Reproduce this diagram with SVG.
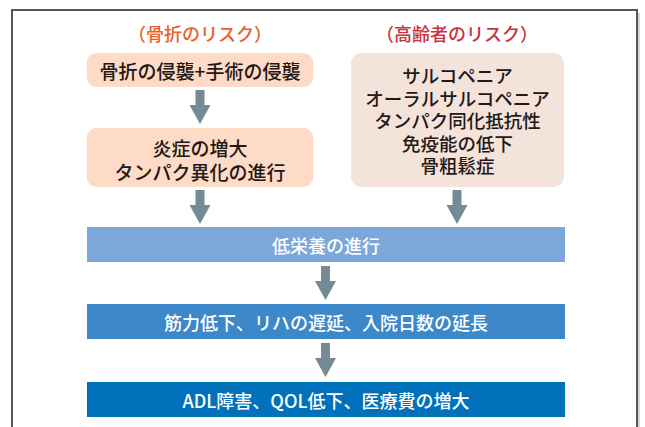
<svg xmlns="http://www.w3.org/2000/svg" width="645" height="427" viewBox="0 0 645 427">
<style>
text{font-family:"Noto Sans CJK JP","Noto Sans",sans-serif;text-anchor:middle;dominant-baseline:central}
.t{font-size:19px;fill:#231815;font-weight:500}
.r{font-size:18.5px;fill:#231815;font-weight:500}
.w{font-size:18px;fill:#ffffff;font-weight:500}
.h{font-size:18px;font-weight:500}
.arr{fill:#748A94}
</style>
<defs>
<path id="ar" d="M-4.5,0 H4.5 V15 H10.5 L0,34 L-10.5,15 H-4.5 Z"/>
</defs>
<rect x="0" y="0" width="645" height="427" fill="#ffffff"/>
<rect x="15" y="13" width="625" height="430" fill="#bbbbbb" opacity="0.6"/>
<rect x="12" y="10" width="625" height="430" fill="#ffffff" stroke="#555555" stroke-width="2"/>
<text class="h" x="200" y="33" fill="#E8602C">（骨折のリスク）</text>
<text class="h" x="457" y="33" fill="#C8323C">（高齢者のリスク）</text>
<g id="n1"><rect x="87" y="53" width="226" height="34" rx="9" fill="#FDDBC6"/><text class="t" x="200" y="70">骨折の侵襲+手術の侵襲</text></g>
<g id="n2"><rect x="87" y="128" width="226" height="59" rx="9" fill="#FDDBC6"/><text class="t"><tspan x="200" y="147">炎症の増大</tspan><tspan x="200" y="171">タンパク異化の進行</tspan></text></g>
<g id="n3"><rect x="351" y="53" width="213" height="134" rx="10" fill="#F4E3DB"/>
<text class="r"><tspan x="457.5" y="75">サルコペニア</tspan><tspan x="457.5" y="97.5">オーラルサルコペニア</tspan><tspan x="457.5" y="120">タンパク同化抵抗性</tspan><tspan x="457.5" y="142.5">免疫能の低下</tspan><tspan x="457.5" y="165">骨粗鬆症</tspan></text></g>
<g id="n4"><rect x="87" y="227" width="478" height="35" fill="#7CA7D8"/><text class="w" x="326" y="244.5">低栄養の進行</text></g>
<g id="n5"><rect x="87" y="304" width="478" height="35" fill="#3C88C9"/><text class="w" x="326" y="321.5">筋力低下、リハの遅延、入院日数の延長</text></g>
<g id="n6"><rect x="87" y="382" width="478" height="35" fill="#0071BA"/><text class="w" x="326" y="399.5">ADL障害、QOL低下、医療費の増大</text></g>
<g id="connectors" class="arr">
<use href="#ar" x="200" y="90"/>
<use href="#ar" x="200" y="190"/>
<use href="#ar" x="457" y="190"/>
<use href="#ar" x="325.5" y="266"/>
<use href="#ar" x="325.5" y="343"/>
</g>
</svg>
